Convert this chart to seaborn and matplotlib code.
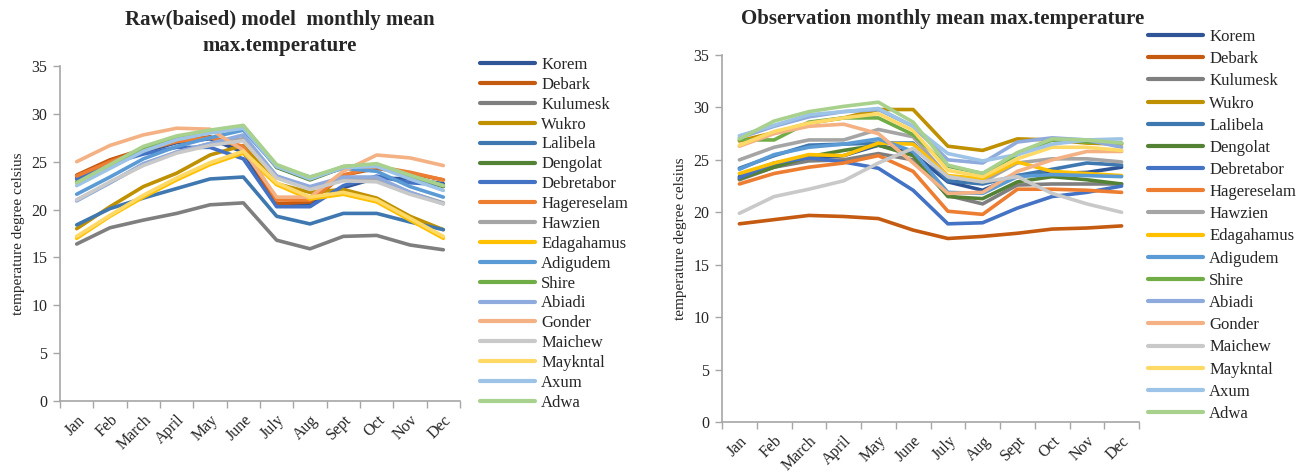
import numpy as np
import pandas as pd
import matplotlib
matplotlib.use("Agg")
import matplotlib.pyplot as plt
import seaborn as sns

months = ["Jan", "Feb", "March", "April", "May", "June",
          "July", "Aug", "Sept", "Oct", "Nov", "Dec"]
stations = ["Korem", "Debark", "Kulumesk", "Wukro", "Lalibela", "Dengolat",
            "Debretabor", "Hagereselam", "Hawzien", "Edagahamus", "Adigudem",
            "Shire", "Abiadi", "Gonder", "Maichew", "Maykntal", "Axum", "Adwa"]
colors = ["#2F5597", "#C55A11", "#7F7F7F", "#BF9000", "#3F78B0", "#548235",
          "#4472C4", "#ED7D31", "#A5A5A5", "#FFC000", "#5B9BD5", "#70AD47",
          "#8FAADC", "#F4B183", "#C9C9C9", "#FFD966", "#9DC3E6", "#A9D18E"]

# Raw (biased) model monthly mean maximum temperature, deg C
model_korem = [23.3, 24.9, 26.0, 27.0, 27.4, 26.0, 20.6, 20.6, 22.3, 23.3, 23.2, 22.7]
model_debark = [23.6, 25.2, 26.3, 27.2, 27.6, 26.5, 20.6, 20.8, 23.6, 24.3, 23.8, 23.1]
model_kulumesk = [16.4, 18.1, 18.9, 19.6, 20.5, 20.7, 16.8, 15.9, 17.2, 17.3, 16.3, 15.8]
model_wukro = [18.0, 20.3, 22.4, 23.8, 25.7, 26.7, 22.7, 21.8, 22.1, 21.2, 19.3, 17.9]
model_lalibela = [18.4, 20.1, 21.2, 22.2, 23.2, 23.4, 19.3, 18.5, 19.6, 19.6, 18.7, 17.9]
model_dengolat = [22.9, 24.6, 26.3, 27.5, 28.1, 28.6, 24.4, 23.1, 24.4, 24.6, 23.4, 22.4]
model_debretabor = [23.2, 24.8, 25.8, 26.5, 26.5, 25.3, 20.3, 20.3, 22.5, 23.5, 22.8, 22.6]
model_hagereselam = [23.5, 25.0, 26.2, 27.1, 27.5, 26.6, 21.0, 21.0, 23.6, 24.5, 23.9, 23.1]
model_hawzien = [21.0, 22.8, 24.7, 26.0, 26.9, 27.4, 23.5, 22.2, 23.2, 23.2, 21.8, 20.7]
model_edagahamus = [17.0, 19.3, 21.3, 23.1, 24.7, 25.9, 22.6, 21.1, 21.6, 20.8, 18.9, 17.0]
model_adigudem = [21.6, 23.4, 25.3, 26.6, 27.5, 28.3, 24.5, 23.4, 24.3, 24.0, 22.4, 21.3]
model_shire = [22.8, 24.5, 26.4, 27.6, 28.2, 28.7, 24.5, 23.2, 24.5, 24.7, 23.5, 22.5]
model_abiadi = [20.9, 22.8, 24.8, 26.0, 26.9, 27.8, 23.5, 22.4, 23.4, 23.4, 21.8, 20.6]
model_gonder = [25.0, 26.7, 27.8, 28.5, 28.4, 26.2, 21.3, 21.3, 24.0, 25.7, 25.4, 24.6]
model_maichew = [21.0, 22.9, 24.6, 25.9, 26.7, 27.2, 23.3, 22.1, 23.0, 22.9, 21.6, 20.6]
model_maykntal = [17.2, 19.4, 21.5, 23.3, 24.9, 26.1, 22.8, 21.3, 21.8, 21.0, 19.1, 17.2]
model_axum = [22.5, 24.3, 26.1, 27.3, 28.0, 28.5, 24.5, 23.2, 24.4, 24.5, 23.2, 22.0]
model_adwa = [22.8, 24.7, 26.6, 27.7, 28.3, 28.8, 24.7, 23.4, 24.5, 24.8, 23.6, 22.5]

# Observed monthly mean maximum temperature, deg C
obs_korem = [23.4, 24.5, 25.1, 25.4, 26.4, 25.6, 22.9, 22.1, 23.5, 23.7, 23.8, 24.3]
obs_debark = [18.9, 19.3, 19.7, 19.6, 19.4, 18.3, 17.5, 17.7, 18.0, 18.4, 18.5, 18.7]
obs_kulumesk = [23.1, 24.3, 24.9, 25.0, 25.6, 25.0, 21.6, 20.8, 22.6, 22.7, 22.7, 22.7]
obs_wukro = [26.8, 27.6, 28.5, 29.0, 29.8, 29.8, 26.3, 25.9, 27.0, 26.9, 26.6, 26.5]
obs_lalibela = [24.2, 25.4, 26.4, 26.5, 26.6, 26.6, 23.0, 22.7, 23.5, 24.1, 24.7, 24.5]
obs_dengolat = [23.2, 24.3, 25.3, 25.9, 26.4, 25.4, 21.5, 21.3, 22.9, 23.4, 23.1, 22.7]
obs_debretabor = [23.3, 24.7, 25.2, 24.8, 24.2, 22.1, 18.9, 19.0, 20.4, 21.5, 21.9, 22.5]
obs_hagereselam = [22.7, 23.7, 24.3, 24.7, 25.4, 23.9, 20.1, 19.8, 22.2, 22.2, 22.1, 21.9]
obs_hawzien = [25.0, 26.2, 26.9, 26.9, 27.9, 27.2, 23.4, 22.9, 24.7, 25.1, 25.1, 24.8]
obs_edagahamus = [23.7, 24.7, 25.5, 25.4, 26.6, 26.5, 23.5, 23.2, 24.8, 23.9, 23.7, 23.5]
obs_adigudem = [24.1, 25.5, 26.2, 26.5, 27.0, 25.8, 21.9, 21.8, 23.4, 23.6, 23.5, 23.4]
obs_shire = [26.9, 26.9, 28.6, 29.0, 29.0, 27.4, 24.4, 23.7, 25.5, 26.9, 26.7, 26.6]
obs_abiadi = [27.1, 28.2, 29.1, 29.6, 29.8, 28.2, 25.0, 24.7, 26.7, 27.1, 26.9, 26.2]
obs_gonder = [26.3, 27.5, 28.2, 28.4, 27.5, 24.7, 21.8, 21.9, 23.9, 25.0, 25.8, 25.8]
obs_maichew = [19.9, 21.5, 22.2, 23.0, 24.7, 26.1, 23.4, 22.9, 23.4, 21.8, 20.8, 20.0]
obs_maykntal = [26.4, 27.7, 28.5, 29.0, 29.4, 27.8, 24.0, 23.4, 25.1, 26.2, 26.2, 25.9]
obs_axum = [27.3, 28.3, 29.3, 29.6, 29.9, 28.2, 25.6, 24.9, 25.5, 26.5, 26.9, 27.0]
obs_adwa = [27.0, 28.7, 29.6, 30.1, 30.5, 28.6, 24.5, 23.7, 25.7, 27.0, 26.9, 26.6]

model_series = [model_korem, model_debark, model_kulumesk, model_wukro,
                model_lalibela, model_dengolat, model_debretabor,
                model_hagereselam, model_hawzien, model_edagahamus,
                model_adigudem, model_shire, model_abiadi, model_gonder,
                model_maichew, model_maykntal, model_axum, model_adwa]
obs_series = [obs_korem, obs_debark, obs_kulumesk, obs_wukro, obs_lalibela,
              obs_dengolat, obs_debretabor, obs_hagereselam, obs_hawzien,
              obs_edagahamus, obs_adigudem, obs_shire, obs_abiadi, obs_gonder,
              obs_maichew, obs_maykntal, obs_axum, obs_adwa]


def to_long(series):
    rows = []
    for name, vals in zip(stations, series):
        for i, v in enumerate(vals):
            rows.append({"station": name, "month": i, "temp": v})
    return pd.DataFrame(rows)


sns.set_theme(style="white")
plt.rcParams["font.family"] = ["Liberation Serif", "DejaVu Serif"]
plt.rcParams["axes.edgecolor"] = "#A6A6A6"

palette = dict(zip(stations, colors))
fig = plt.figure(figsize=(13.11, 4.72), dpi=100)

W, H = 1311.0, 472.0
ax_l = fig.add_axes([60 / W, (H - 401) / H, 400 / W, 335 / H])
ax_r = fig.add_axes([722 / W, (H - 422) / H, 417 / W, 367 / H])


def style_axes(ax):
    ax.set_xlim(-0.5, 11.5)
    ax.set_ylim(0, 35)
    ax.set_yticks(np.arange(0, 36, 5))
    ax.set_xticks(range(12))
    ax.set_xticklabels(months, rotation=45, ha="right", rotation_mode="anchor",
                       fontsize=11.5)
    ax.set_xticks(np.arange(-0.5, 12, 1), minor=True)
    ax.tick_params(axis="x", which="major", length=0, pad=8)
    ax.tick_params(axis="x", which="minor", length=5, color="#A6A6A6",
                   width=1, direction="out", bottom=True)
    ax.tick_params(axis="y", which="major", length=5, color="#A6A6A6",
                   width=1, direction="out", left=True, labelsize=11.5, pad=4)
    for s in ["top", "right"]:
        ax.spines[s].set_visible(False)
    for s in ["left", "bottom"]:
        ax.spines[s].set_color("#A6A6A6")
        ax.spines[s].set_linewidth(1.2)
    ax.set_xlabel("")
    ax.set_ylabel("temperature degree celsius", fontsize=11, labelpad=5)


for ax, series in [(ax_l, model_series), (ax_r, obs_series)]:
    df = to_long(series)
    sns.lineplot(data=df, x="month", y="temp", hue="station",
                 hue_order=stations, palette=palette, linewidth=2.6,
                 sort=False, ax=ax, legend=True)
    style_axes(ax)

handles, labels = ax_l.get_legend_handles_labels()
for h in handles:
    h.set_linewidth(3)
    h.set_solid_capstyle("round")
ax_l.legend(handles, labels, loc="upper left",
            bbox_to_anchor=(480 / W, (H - 57) / H), bbox_transform=fig.transFigure,
            frameon=False, fontsize=12, handlelength=3.3, handletextpad=0.37,
            labelspacing=0.232, borderpad=0, borderaxespad=0)

handles, labels = ax_r.get_legend_handles_labels()
for h in handles:
    h.set_linewidth(3)
    h.set_solid_capstyle("round")
ax_r.legend(handles, labels, loc="upper left",
            bbox_to_anchor=(1148 / W, (H - 29) / H), bbox_transform=fig.transFigure,
            frameon=False, fontsize=12, handlelength=3.3, handletextpad=0.37,
            labelspacing=0.37, borderpad=0, borderaxespad=0)

fig.text(280 / W, 1 - 33 / H, "Raw(baised) model  monthly mean\nmax.temperature",
         ha="center", va="center", fontsize=15, fontweight="bold",
         linespacing=1.35)
fig.text(943 / W, 1 - 19 / H, "Observation monthly mean max.temperature",
         ha="center", va="center", fontsize=15, fontweight="bold")

fig.savefig("out.png", dpi=100)
